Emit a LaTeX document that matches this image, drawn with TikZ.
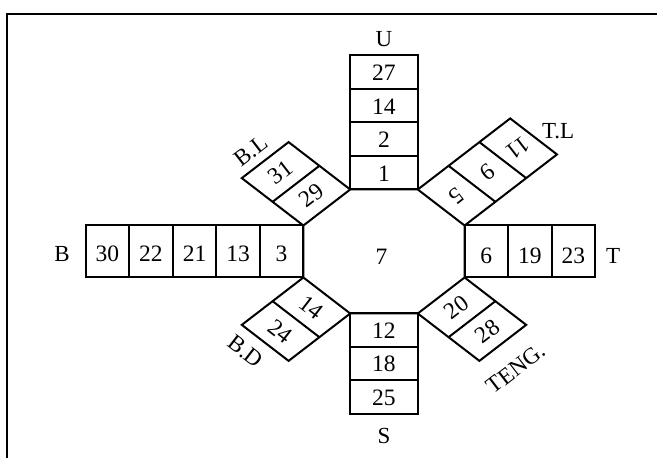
\documentclass[tikz,border=0pt]{standalone}
\usepackage{fontspec}
\setmainfont{Liberation Serif}
\begin{document}
\begin{tikzpicture}[x=1.3pt,y=-1pt,line width=2pt,line join=miter,
  num/.style={font=\fontsize{23.5}{27}\selectfont,inner sep=0pt},
  lab/.style={font=\fontsize{23}{27}\selectfont,inner sep=0pt}]
\useasboundingbox (-295.385,-251.5) rectangle (210,206.5);
% frame (partial, cropped)
\draw[line width=1.8pt] (-290,206.5) -- (-290,-237.5) -- (210,-237.5);
% octagon
\draw (-26,-62) -- (26,-62) -- (62,-26) -- (62,26) -- (26,62) -- (-26,62) -- (-62,26) -- (-62,-26) -- cycle;
\node[num] (c7) at (-2,5) {7};
% top column (U)
\draw (-26,-62) rectangle (26,-196);
\foreach \k in {1,2,3} \draw (-26,-62-33.5*\k) -- (26,-62-33.5*\k);
\foreach \n [count=\i] in {1,2,14,27}
  \node[num] (u\i) at (0,-62-33.5*\i+17.5) {\n};
\node[lab] (U) at (0,-212) {U};
% bottom column (S)
\draw (-26,62) rectangle (26,162.5);
\foreach \k in {1,2} \draw (-26,62+33.5*\k) -- (26,62+33.5*\k);
\foreach \n [count=\i] in {12,18,25}
  \node[num] (s\i) at (0,62+33.5*\i-16.5) {\n};
\node[lab] (S) at (0,184) {S};
% left row (B)
\draw (-62,-26) rectangle (-229.5,26);
\foreach \k in {1,2,3,4} \draw (-62-33.5*\k,-26) -- (-62-33.5*\k,26);
\foreach \n [count=\i] in {3,13,21,22,30}
  \node[num] (b\i) at (-62-33.5*\i+16.75,2.5) {\n};
\node[lab] (B) at (-247.7,3) {B};
% right row (T)
\draw (62,-26) rectangle (162.5,26);
\foreach \k in {1,2} \draw (62+33.5*\k,-26) -- (62+33.5*\k,26);
\foreach \n [count=\i] in {6,19,23}
  \node[num] (t\i) at (62+33.5*\i-16.75,4) {\n};
\node[lab] (T) at (176.2,4) {T};
% upper right (T.L)
\draw (26,-62) -- (97.07,-133.07) -- (133.07,-97.07) -- (62,-26);
\foreach \k in {1,2} \draw (26+23.69*\k,-62-23.69*\k) -- (62+23.69*\k,-26-23.69*\k);
\foreach \n [count=\i] in {5,9,11}
  \node[num,rotate=-142.4] (tl\i) at (44+23.69*\i-11.845,-44-23.69*\i+11.845) {\n};
\node[lab] (TL) at (134,-120) {T.L};
% upper left (B.L)
\draw (-26,-62) -- (-73.38,-109.38) -- (-109.38,-73.38) -- (-62,-26);
\draw (-49.69,-85.69) -- (-85.69,-49.69);
\foreach \n [count=\i] in {29,31}
  \node[num,rotate=37.6] (bl\i) at (-44-23.69*\i+11.845,-44-23.69*\i+11.845) {\n};
\node[lab,rotate=37.6] (BL) at (-102.5,-100.5) {B.L};
% lower left (B.D)
\draw (-62,26) -- (-109.38,73.38) -- (-73.38,109.38) -- (-26,62);
\draw (-85.69,49.69) -- (-49.69,85.69);
\foreach \n [count=\i] in {14,24}
  \node[num,rotate=-37.6] (bd\i) at (-44-23.69*\i+11.845,44+23.69*\i-11.845) {\n};
\node[lab,rotate=-37.6] (BD) at (-106.5,100) {B.D};
% lower right (TENG.)
\draw (62,26) -- (109.38,73.38) -- (73.38,109.38) -- (26,62);
\draw (85.69,49.69) -- (49.69,85.69);
\foreach \n [count=\i] in {20,28}
  \node[num,rotate=37.6] (tg\i) at (44+23.69*\i-11.845,44+23.69*\i-11.845) {\n};
\node[lab,rotate=37.6] (TENG) at (101.5,117) {TENG.};
\end{tikzpicture}
\end{document}
